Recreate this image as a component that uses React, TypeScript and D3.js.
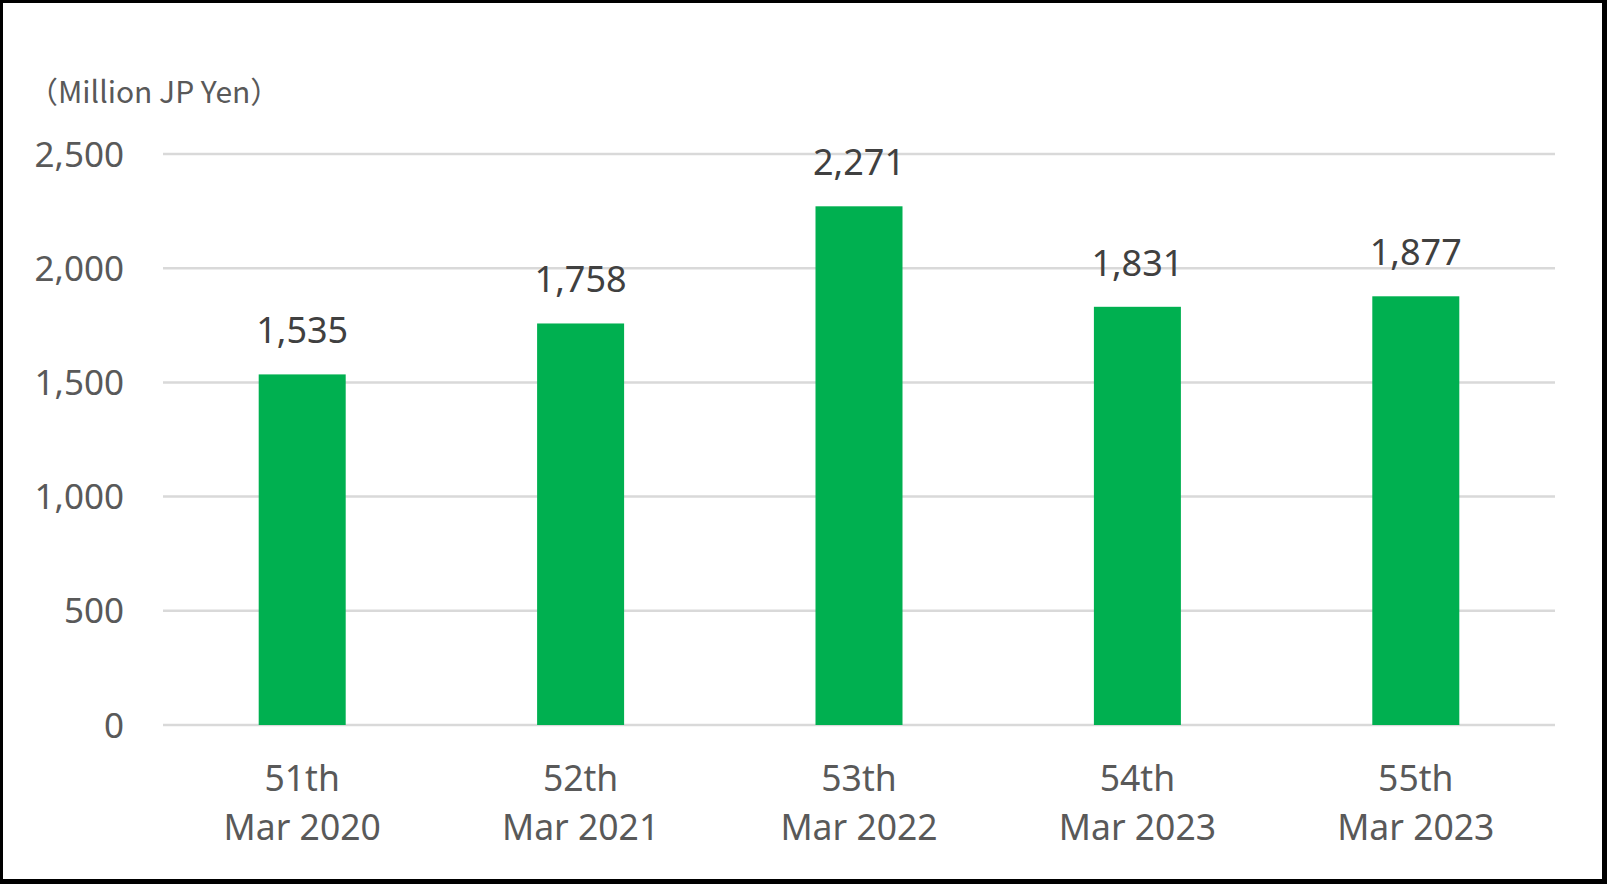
import React from "react";
import * as d3 from "d3";

const categories = ["51th|Mar 2020", "52th|Mar 2021", "53th|Mar 2022", "54th|Mar 2023", "55th|Mar 2023"];
const values = [1535, 1758, 2271, 1831, 1877];
const yTicks = [0, 500, 1000, 1500, 2000, 2500];
const unitLabel = "（Million JP Yen）";

const W = 1607;
const H = 884;
const plot = { left: 163, right: 1555, top: 154, bottom: 725 };
const FONT = "'Noto Sans', 'Open Sans', sans-serif";

export default function App() {
  const x = d3
    .scaleBand<string>()
    .domain(categories)
    .range([plot.left, plot.right])
    .paddingInner(0.6875)
    .paddingOuter(0.34375);
  const y = d3.scaleLinear().domain([0, 2500]).range([plot.bottom, plot.top]);
  const fmt = d3.format(",");

  return (
    <div style={{ position: "fixed", left: 0, top: 0 }}>
      <svg width={W} height={H} style={{ display: "block", background: "#fff" }}>
        <rect x={0} y={0} width={W} height={H} fill="#fff" />
        {yTicks.map((t) => (
          <g key={t}>
            <line x1={plot.left} x2={plot.right} y1={y(t)} y2={y(t)} stroke="#d9d9d9" strokeWidth={2.5} />
            <text x={124} y={y(t)} dy="0.36em" textAnchor="end" fontFamily={FONT} fontSize={35} fill="#595959">
              {fmt(t)}
            </text>
          </g>
        ))}
        {categories.map((c, i) => (
          <g key={c}>
            <rect
              x={x(c)}
              y={y(values[i])}
              width={x.bandwidth()}
              height={y(0) - y(values[i])}
              fill="#00b050"
            />
            <text
              x={(x(c) as number) + x.bandwidth() / 2}
              y={y(values[i]) - 31}
              textAnchor="middle"
              fontFamily={FONT}
              fontSize={36}
              fill="#404040"
            >
              {fmt(values[i])}
            </text>
            {c.split("|").map((line, j) => (
              <text
                key={j}
                x={(x(c) as number) + x.bandwidth() / 2}
                y={791 + j * 49}
                textAnchor="middle"
                fontFamily={FONT}
                fontSize={35.5}
                fill="#595959"
              >
                {line}
              </text>
            ))}
          </g>
        ))}
        <text x={28} y={103} fontFamily="'Noto Sans CJK JP', 'Noto Sans', sans-serif" fontSize={30} fill="#595959">
          {unitLabel}
        </text>
        <rect x={0} y={0} width={3} height={H} fill="#000" />
        <rect x={0} y={0} width={W} height={3} fill="#000" />
        <rect x={W - 5} y={0} width={5} height={H} fill="#000" />
        <rect x={0} y={H - 5} width={W} height={5} fill="#000" />
      </svg>
    </div>
  );
}
